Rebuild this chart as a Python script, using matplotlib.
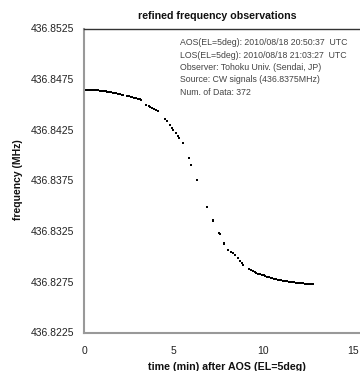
import matplotlib
matplotlib.use("Agg")
import matplotlib.pyplot as plt

# ---- data ----
time_min = [
    0.0, 0.1, 0.2, 0.3, 0.4, 0.5, 0.6, 0.7, 0.8, 0.9, 1.0, 1.1, 1.2, 1.3, 1.4, 1.5,
    1.6, 1.7, 1.8, 1.9, 2.0, 2.1, 2.2,
    2.4, 2.5, 2.6, 2.7, 2.8, 2.9, 3.0, 3.1, 3.2,
    3.47, 3.6, 3.7, 3.8, 3.9, 4.0, 4.12,
    4.50, 4.65, 4.81, 4.90, 4.98, 5.11, 5.24, 5.30, 5.52, 5.83, 5.96, 6.28,
    6.85, 7.17, 7.20, 7.50, 7.55, 7.78, 7.82, 8.04, 8.20, 8.30, 8.41,
    8.60, 8.70, 8.80, 8.87,
    9.2, 9.3, 9.4, 9.5, 9.6, 9.7, 9.8, 9.9, 10.0, 10.1, 10.2, 10.3, 10.4, 10.5,
    10.6, 10.7, 10.8, 10.9, 11.0, 11.1, 11.2, 11.3, 11.4, 11.5, 11.6, 11.7, 11.8,
    11.9, 12.0, 12.1, 12.2, 12.3,
    12.45, 12.55, 12.65, 12.75,
]
freq_mhz = [
    436.84647, 436.84647, 436.84647, 436.84646, 436.84645, 436.84644, 436.84643,
    436.84641, 436.84640, 436.84638, 436.84635, 436.84633, 436.84630, 436.84627,
    436.84624, 436.84621, 436.84617, 436.84613, 436.84609, 436.84605, 436.84600,
    436.84595, 436.84590,
    436.84584, 436.84580, 436.84575, 436.84571, 436.84566, 436.84562, 436.84557,
    436.84553, 436.84548,
    436.84498, 436.84486, 436.84476, 436.84466, 436.84456, 436.84445, 436.84432,
    436.84360, 436.84335, 436.84300, 436.84265, 436.84250, 436.84218, 436.84185,
    436.84172, 436.84119, 436.83971, 436.83905, 436.83756,
    436.83492, 436.83361, 436.83355, 436.83229, 436.83220, 436.83136, 436.83128,
    436.83064, 436.83040, 436.83035, 436.83015,
    436.82982, 436.82960, 436.82935, 436.82916,
    436.82876, 436.82866, 436.82857, 436.82848, 436.82840, 436.82832, 436.82825,
    436.82819, 436.82813, 436.82807, 436.82802, 436.82797, 436.82792, 436.82787,
    436.82782, 436.82777, 436.82773, 436.82769, 436.82765, 436.82762, 436.82758,
    436.82755, 436.82752, 436.82749, 436.82746, 436.82744, 436.82742, 436.82740,
    436.82738, 436.82736, 436.82734, 436.82733,
    436.82731, 436.82730, 436.82729, 436.82728,
]
x_ticks = [0, 5, 10, 15]
y_ticks = [436.8225, 436.8275, 436.8325, 436.8375, 436.8425, 436.8475, 436.8525]
y_tick_labels = ["436.8225", "436.8275", "436.8325", "436.8375", "436.8425",
                 "436.8475", "436.8525"]
info_lines = [
    "AOS(EL=5deg): 2010/08/18 20:50:37  UTC",
    "LOS(EL=5deg): 2010/08/18 21:03:27  UTC",
    "Observer: Tohoku Univ. (Sendai, JP)",
    "Source: CW signals (436.8375MHz)",
    "Num. of Data: 372",
]

plt.rcParams["font.family"] = ["Liberation Sans", "DejaVu Sans"]

W, H = 360, 371
fig = plt.figure(figsize=(W / 100, H / 100), dpi=100)
left_px, right_px, top_px, bot_px = 84, 360, 28.5, 332.5
ax = fig.add_axes([left_px / W, 1 - bot_px / H, (right_px - left_px) / W,
                   (bot_px - top_px) / H])

ax.plot(time_min, freq_mhz, linestyle="none", marker="s", markersize=2.0,
        color="black", markeredgewidth=0)

px_per_min = 17.95
ax.set_xlim(0, (right_px - left_px) / px_per_min)
ax.set_ylim(436.8225, 436.8525)
ax.set_xticks(x_ticks)
ax.set_yticks(y_ticks)
ax.set_yticklabels(y_tick_labels)
ax.tick_params(axis="both", length=0, labelsize=7.5, colors="#222222")
ax.tick_params(axis="y", pad=7)
ax.tick_params(axis="x", pad=10)

for s in ("left", "bottom"):
    ax.spines[s].set_color("#999999")
    ax.spines[s].set_linewidth(1.5)
ax.spines["top"].set_color("#333333")
ax.spines["top"].set_linewidth(1.0)
ax.spines["right"].set_visible(False)

fig.text(217.5 / W, 1 - 16 / H, "refined frequency observations", ha="center",
         va="center", fontsize=7.7, fontweight="bold", color="#111111")
fig.text(227 / W, 1 - 367 / H, "time (min) after AOS (EL=5deg)", ha="center",
         va="center", fontsize=7.7, fontweight="bold", color="#111111")
fig.text(18 / W, 1 - 180 / H, "frequency (MHz)", ha="center", va="center",
         rotation=90, fontsize=7.5, fontweight="bold", color="#111111")

ax.text((180 - left_px) / (right_px - left_px), (bot_px - 38) / (bot_px - top_px),
        "\n".join(info_lines), transform=ax.transAxes, ha="left", va="top",
        fontsize=6.3, linespacing=1.5, color="#444444")

fig.savefig("out.png", dpi=100)
